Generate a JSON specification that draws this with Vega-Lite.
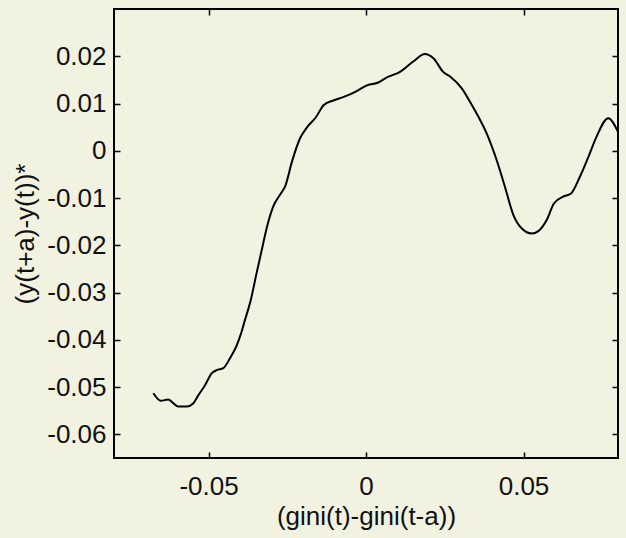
{
  "$schema": "https://vega.github.io/schema/vega-lite/v6.json",
  "width": 504,
  "height": 449,
  "autosize": "none",
  "padding": {"left": 114, "top": 9, "right": 8, "bottom": 80},
  "background": "#f2f2e1",
  "config": {
    "view": {"stroke": "#000000", "strokeWidth": 2, "fill": "#f2f2e1"},
    "font": "Liberation Sans",
    "axis": {
      "domain": false,
      "grid": false,
      "tickColor": "#000000",
      "tickWidth": 1.5,
      "tickSize": -6,
      "labelFont": "Liberation Sans",
      "labelFontSize": 26,
      "labelColor": "#111111",
      "titleFont": "Liberation Sans",
      "titleFontSize": 26,
      "titleFontWeight": "normal",
      "titleColor": "#111111"
    }
  },
  "data": {
    "values": [
      {"x": -0.0675, "y": -0.0513},
      {"x": -0.0651, "y": -0.0529},
      {"x": -0.0628, "y": -0.0526},
      {"x": -0.0612, "y": -0.0534},
      {"x": -0.0596, "y": -0.0541},
      {"x": -0.0569, "y": -0.0541},
      {"x": -0.0548, "y": -0.0534},
      {"x": -0.0532, "y": -0.0517},
      {"x": -0.0511, "y": -0.0496},
      {"x": -0.0490, "y": -0.0471},
      {"x": -0.0474, "y": -0.0464},
      {"x": -0.0453, "y": -0.0460},
      {"x": -0.0432, "y": -0.0439},
      {"x": -0.0410, "y": -0.0411},
      {"x": -0.0395, "y": -0.0383},
      {"x": -0.0386, "y": -0.0362},
      {"x": -0.0367, "y": -0.0319},
      {"x": -0.0348, "y": -0.0261},
      {"x": -0.0329, "y": -0.0204},
      {"x": -0.0314, "y": -0.0160},
      {"x": -0.0294, "y": -0.0117},
      {"x": -0.0272, "y": -0.0092},
      {"x": -0.0256, "y": -0.0074},
      {"x": -0.0235, "y": -0.0023},
      {"x": -0.0209, "y": 0.0027},
      {"x": -0.0188, "y": 0.0049},
      {"x": -0.0159, "y": 0.0071},
      {"x": -0.0134, "y": 0.0097},
      {"x": -0.0102, "y": 0.0107},
      {"x": -0.0071, "y": 0.0114},
      {"x": -0.0039, "y": 0.0123},
      {"x": -0.0020, "y": 0.0130},
      {"x": 0.0005, "y": 0.0139},
      {"x": 0.0037, "y": 0.0144},
      {"x": 0.0068, "y": 0.0156},
      {"x": 0.0108, "y": 0.0167},
      {"x": 0.0150, "y": 0.0189},
      {"x": 0.0187, "y": 0.0205},
      {"x": 0.0214, "y": 0.0196},
      {"x": 0.0245, "y": 0.0167},
      {"x": 0.0267, "y": 0.0157},
      {"x": 0.0304, "y": 0.0132},
      {"x": 0.0330, "y": 0.0104},
      {"x": 0.0357, "y": 0.0072},
      {"x": 0.0383, "y": 0.0037},
      {"x": 0.0415, "y": -0.0020},
      {"x": 0.0441, "y": -0.0076},
      {"x": 0.0468, "y": -0.0136},
      {"x": 0.0494, "y": -0.0164},
      {"x": 0.0526, "y": -0.0175},
      {"x": 0.0547, "y": -0.0170},
      {"x": 0.0574, "y": -0.0146},
      {"x": 0.0597, "y": -0.0111},
      {"x": 0.0626, "y": -0.0097},
      {"x": 0.0650, "y": -0.0091},
      {"x": 0.0679, "y": -0.0055},
      {"x": 0.0706, "y": -0.0013},
      {"x": 0.0732, "y": 0.0030},
      {"x": 0.0769, "y": 0.0069},
      {"x": 0.0800, "y": 0.0040}
    ]
  },
  "layer": [
    {
      "mark": {"type": "line", "color": "#000000", "strokeWidth": 2, "interpolate": "monotone", "clip": true},
      "encoding": {
        "x": {
          "field": "x", "type": "quantitative",
          "scale": {"domain": [-0.08, 0.08], "nice": false, "zero": false},
          "axis": {"orient": "bottom", "values": [-0.05, 0, 0.05], "format": "~g", "labelExpr": "replace(datum.label, '−', '-')", "labelPadding": 21, "title": "(gini(t)-gini(t-a))", "titlePadding": 4}
        },
        "y": {
          "field": "y", "type": "quantitative",
          "scale": {"domain": [-0.065, 0.03], "nice": false, "zero": false},
          "axis": {"orient": "left", "values": [-0.06, -0.05, -0.04, -0.03, -0.02, -0.01, 0, 0.01, 0.02], "format": "~g", "labelExpr": "replace(datum.label, '−', '-')", "labelPadding": 14, "title": "(y(t+a)-y(t))*", "titlePadding": 8}
        }
      }
    },
    {
      "mark": {"type": "line", "opacity": 0},
      "encoding": {
        "x": {
          "field": "x", "type": "quantitative",
          "axis": {"orient": "top", "values": [-0.05, 0, 0.05], "labels": false, "title": null}
        },
        "y": {
          "field": "y", "type": "quantitative",
          "axis": {"orient": "right", "values": [-0.06, -0.05, -0.04, -0.03, -0.02, -0.01, 0, 0.01, 0.02], "labels": false, "title": null}
        }
      }
    }
  ],
  "resolve": {"axis": {"x": "independent", "y": "independent"}}
}
